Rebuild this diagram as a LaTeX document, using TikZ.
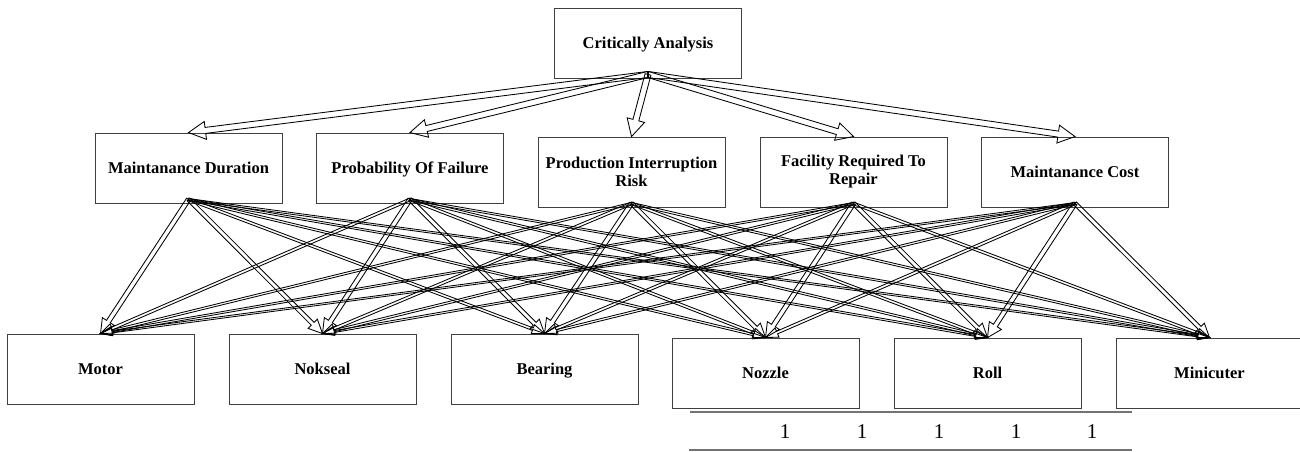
\documentclass[tikz,border=0pt]{standalone}
\usepackage{fontspec}
\setmainfont{Liberation Serif}
\usetikzlibrary{calc}
\tikzset{
  box/.style={draw=black!75, line width=0.9pt, minimum width=187pt, minimum height=70pt,
    inner sep=0pt, font=\fontsize{16.5}{18}\selectfont\bfseries},
  oneline/.style={text height=11pt, text depth=0pt},
  twoline/.style={align=center},
  blkarr/.style={draw=black, line width=0.85pt, line join=miter},
  numtxt/.style={font=\fontsize{21}{24}\selectfont, inner sep=0pt},
  rulegray/.style={draw=black!55, line width=1.6pt}
}
% #1 shaft half width, #2 head half width, #3 head length (expressions, may use \n5 = vertical fraction)
\newcommand\blkarrow[5]{%
  \draw[blkarr] let \p1=(#4), \p2=(#5),
      \n1={veclen(\x2-\x1,\y2-\y1)}, \n5={abs(\y2-\y1)/\n1},
      \n2={#1}, \n3={#2}, \n4={#3},
      \p3=($(\p2)!\n4*1pt!(\p1)$) in
    ($(\p1)!\n2*1pt!90:(\p2)$) -- ($(\p3)!\n2*1pt!-90:(\p1)$) -- ($(\p3)!\n3*1pt!-90:(\p1)$)
    -- (\p2) -- ($(\p3)!\n3*1pt!90:(\p1)$) -- ($(\p3)!\n2*1pt!90:(\p1)$)
    -- ($(\p1)!\n2*1pt!-90:(\p2)$) -- cycle;
}
\begin{document}
\begin{tikzpicture}[x=1pt, y=-1pt]
\useasboundingbox[fill=white] (0,0) rectangle (1300,451);

% top
\node[box,oneline] (ca) at (648,43) {Critically Analysis};
% middle row
\node[box,oneline] (md)  at (188.5,168) {Maintanance Duration};
\node[box,oneline] (pf)  at (410,168)   {Probability Of Failure};
\node[box,twoline] (pir) at (631.5,172) {Production Interruption\\Risk};
\node[box,twoline] (frr) at (853.5,172) {Facility Required To\\Repair};
\node[box,oneline] (mc)  at (1075,172)  {Maintanance Cost};
% bottom row
\node[box,oneline] (motor)   at (100.5,369) {Motor};
\node[box,oneline] (nokseal) at (322.5,369) {Nokseal};
\node[box,oneline] (bearing) at (544.5,369) {Bearing};
\node[box,oneline] (nozzle)  at (765.5,373) {Nozzle};
\node[box,oneline] (roll)    at (987.5,373) {Roll};
\node[box,oneline] (mini)    at (1209.5,373) {Minicuter};

% arrow origins
\coordinate (cao)  at ($(ca.south)+(0,-4)$);
\coordinate (mdo)  at ($(md.south)+(0,-4)$);
\coordinate (pfo)  at ($(pf.south)+(0,-4)$);
\coordinate (piro) at ($(pir.south)+(0,-4)$);
\coordinate (frro) at ($(frr.south)+(0,-4)$);
\coordinate (mco)  at ($(mc.south)+(0,-4)$);

% top arrows
\foreach \t in {md,pf,pir,frr,mc}{
  \blkarrow{3}{9}{17}{cao}{\t.north}
}
% bottom arrows
\foreach \s in {mdo,pfo,piro,frro,mco}{
  \foreach \t in {motor,nokseal,bearing,nozzle,roll,mini}{
    \blkarrow{0.6+2*\n5}{3+5*\n5}{11+4*\n5}{\s}{\t.north}
  }
}

% table rules and numbers
\coordinate (r1a) at (690,412);
\coordinate (r1b) at (1132,412);
\coordinate (r2a) at (689,450);
\coordinate (r2b) at (1132,450);
\draw[rulegray] (r1a) -- (r1b);
\draw[rulegray] (r2a) -- (r2b);
\node[numtxt] (v1) at (785,432) {1};
\node[numtxt] (v2) at (862,432) {1};
\node[numtxt] (v3) at (939,432) {1};
\node[numtxt] (v4) at (1016,432) {1};
\node[numtxt] (v5) at (1092,432) {1};
\end{tikzpicture}
\end{document}
